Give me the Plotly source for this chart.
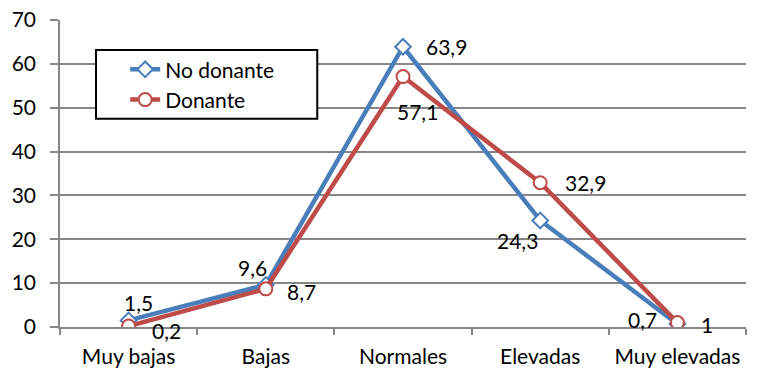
import plotly.graph_objects as go

categorias = ["Muy bajas", "Bajas", "Normales", "Elevadas", "Muy elevadas"]
no_donante = [1.5, 9.6, 63.9, 24.3, 0.7]
donante = [0.2, 8.7, 57.1, 32.9, 1.0]
y_ticks = [0, 10, 20, 30, 40, 50, 60, 70]

# label offsets (px) for each data label, per series
off_no = [(10, -18), (-13, -17), (43, 0), (-23, 20), (-35, -4)]
off_do = [(38, 4), (36, 3), (14, 35), (45, 0), (30, 2)]

AZUL = "#4A7EBB"
ROJO = "#BE4B48"
GRIS = "#878787"
FUENTE = "Lato"
TAM = 21


def fmt(v):
    s = f"{v:.1f}".replace(".", ",")
    return s[:-2] if s.endswith(",0") else s


fig = go.Figure()
fig.add_trace(go.Scatter(
    x=categorias, y=no_donante, name="No donante", mode="lines+markers",
    line=dict(color=AZUL, width=4.5),
    marker=dict(symbol="diamond", size=12, color="white",
                line=dict(color=AZUL, width=2)),
))
fig.add_trace(go.Scatter(
    x=categorias, y=donante, name="Donante", mode="lines+markers",
    line=dict(color=ROJO, width=4.5),
    marker=dict(symbol="circle", size=13, color="white",
                line=dict(color=ROJO, width=2)),
))

for serie, offs in ((no_donante, off_no), (donante, off_do)):
    for c, v, (dx, dy) in zip(categorias, serie, offs):
        fig.add_annotation(x=c, y=v, text=fmt(v), showarrow=False,
                           xshift=dx, yshift=-dy,
                           font=dict(family=FUENTE, size=TAM, color="black"))

# legend frame
fig.add_shape(type="rect", xref="paper", yref="paper",
              x0=0.0525, x1=0.375, y0=0.678, y1=0.902,
              line=dict(color="black", width=2), fillcolor="white", layer="above")

fig.update_layout(
    width=759, height=368,
    margin=dict(l=60, r=13, t=20, b=41, autoexpand=False),
    paper_bgcolor="white", plot_bgcolor="white",
    font=dict(family=FUENTE, size=TAM, color="black"),
    showlegend=True,
    legend=dict(x=0.095, y=0.905, xanchor="left", yanchor="top",
                bgcolor="rgba(0,0,0,0)", borderwidth=0,
                font=dict(family=FUENTE, size=TAM), tracegroupgap=0,
                itemwidth=30),
    xaxis=dict(
        type="category", range=[-0.5, 4.5], automargin=False,
        showgrid=False, showline=True, linecolor=GRIS, linewidth=1.5,
        ticks="outside", tickson="boundaries", ticklen=6, tickcolor=GRIS,
        tickwidth=1.5, ticklabelstandoff=10,
    ),
    yaxis=dict(
        range=[0, 70], tickvals=y_ticks, showgrid=True, gridcolor=GRIS,
        gridwidth=1.5, showline=True, linecolor=GRIS, linewidth=1.5,
        ticks="outside", ticklen=8, tickcolor=GRIS, tickwidth=1.5,
        zeroline=False, ticklabelstandoff=10, automargin=False,
    ),
)

fig.write_html("out.html")
